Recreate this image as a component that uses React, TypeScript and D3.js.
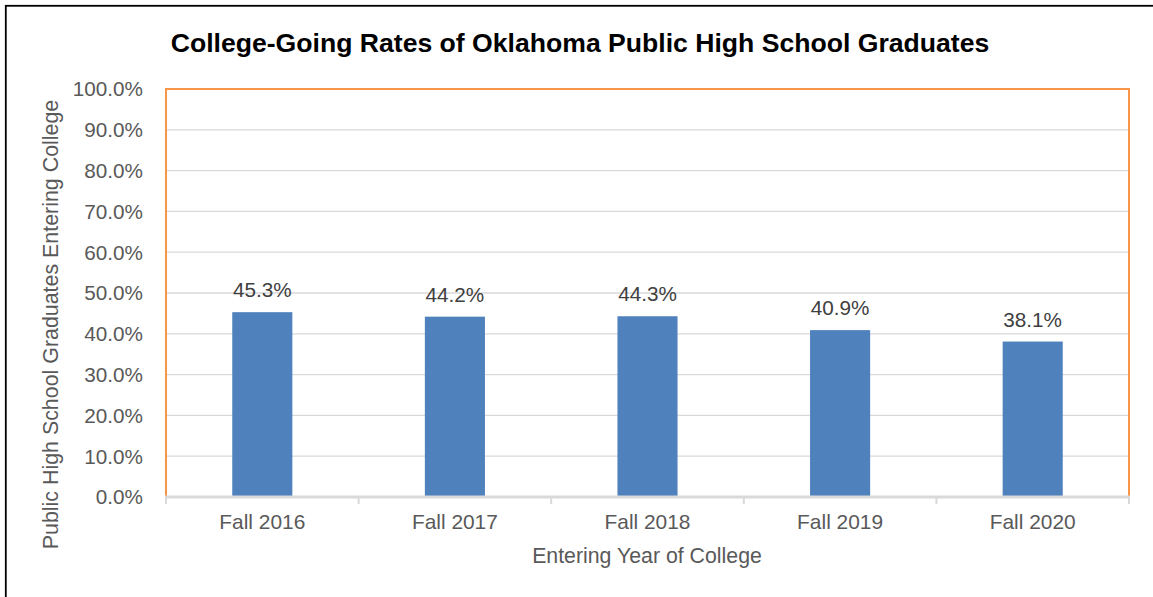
import * as d3 from 'd3';

const categories = ['Fall 2016', 'Fall 2017', 'Fall 2018', 'Fall 2019', 'Fall 2020'];
const rates = [0.453, 0.442, 0.443, 0.409, 0.381];
const yTicks = [0, 0.1, 0.2, 0.3, 0.4, 0.5, 0.6, 0.7, 0.8, 0.9, 1.0];

const W = 1153;
const H = 597;
const plot = { left: 166, right: 1129, top: 89, bottom: 497 };
const font = '"Liberation Sans", Arial, sans-serif';

export default function App() {
  const x = d3.scaleBand<string>().domain(categories).range([plot.left, plot.right]).padding(0);
  const y = d3.scaleLinear().domain([0, 1]).range([plot.bottom, plot.top]);
  const fmt = d3.format('.1%');
  const barW = x.bandwidth() * 0.312;

  // category boundaries for the small axis ticks
  const bounds = categories.map(c => x(c)!).concat([plot.right]);

  return (
    <svg
      width={W}
      height={H}
      style={{ position: 'absolute', left: 0, top: 0, background: '#fff' }}
      fontFamily={font}
    >
      {/* outer chart border (cropped on right/bottom) */}
      <rect x={5.8} y={5.8} width={W + 20} height={H + 20} fill="none" stroke="#000" strokeWidth={1.8} />

      <text x={580} y={52} textAnchor="middle" fontSize={26.6} fontWeight="bold" fill="#000">
        College-Going Rates of Oklahoma Public High School Graduates
      </text>

      {/* gridlines */}
      {yTicks.map(t => (
        <line key={t} x1={plot.left} x2={plot.right} y1={y(t)} y2={y(t)} stroke="#d9d9d9" strokeWidth={1.3} />
      ))}

      {/* y tick labels */}
      {yTicks.map(t => (
        <text key={'l' + t} x={143} y={y(t)} dy="0.36em" textAnchor="end" fontSize={20.7} fill="#595959">
          {fmt(t)}
        </text>
      ))}

      {/* bars */}
      {categories.map((c, i) => (
        <rect
          key={c}
          x={x(c)! + (x.bandwidth() - barW) / 2}
          y={y(rates[i])}
          width={barW}
          height={y(0) - y(rates[i])}
          fill="#4f81bd"
        />
      ))}

      {/* data labels */}
      {categories.map((c, i) => (
        <text
          key={'d' + c}
          x={x(c)! + x.bandwidth() / 2}
          y={y(rates[i]) - 15}
          textAnchor="middle"
          fontSize={20.7}
          fill="#404040"
        >
          {fmt(rates[i])}
        </text>
      ))}

      {/* plot area border */}
      <rect
        x={plot.left}
        y={plot.top}
        width={plot.right - plot.left}
        height={plot.bottom - plot.top}
        fill="none"
        stroke="#f79646"
        strokeWidth={2}
      />

      {/* x axis line and ticks */}
      <line x1={plot.left - 1} x2={plot.right + 1} y1={plot.bottom} y2={plot.bottom} stroke="#d9d9d9" strokeWidth={3} />
      {bounds.map((b, i) => (
        <line key={'t' + i} x1={b} x2={b} y1={plot.bottom} y2={plot.bottom + 7} stroke="#d9d9d9" strokeWidth={2} />
      ))}

      {/* x tick labels */}
      {categories.map(c => (
        <text key={'x' + c} x={x(c)! + x.bandwidth() / 2} y={529} textAnchor="middle" fontSize={20.9} fill="#595959">
          {c}
        </text>
      ))}

      {/* axis titles */}
      <text x={647} y={563} textAnchor="middle" fontSize={21.3} fill="#595959">
        Entering Year of College
      </text>
      <text
        transform={`translate(58,${324.5}) rotate(-90)`}
        textAnchor="middle"
        fontSize={21.4}
        fill="#595959"
      >
        Public High School Graduates Entering College
      </text>
    </svg>
  );
}
